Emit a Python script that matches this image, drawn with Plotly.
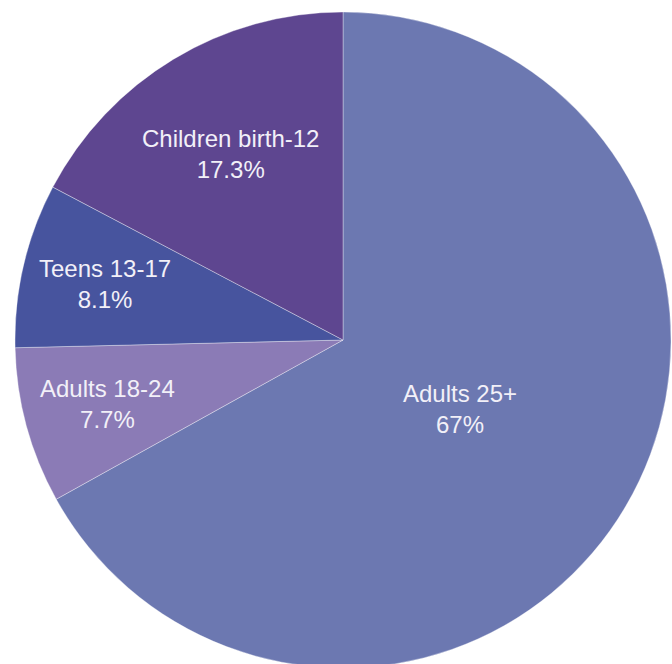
import math
import plotly.graph_objects as go

labels = ["Adults 25+", "Adults 18-24", "Teens 13-17", "Children birth-12"]
values = [67, 7.7, 8.1, 17.3]
colors = ["#6C78B1", "#8B7BB6", "#47549E", "#5E4690"]
label_radius = [0.415, 0.745, 0.745, 0.664]  # fraction of pie radius for label placement

texts = [f"{l}<br>{v:g}%" for l, v in zip(labels, values)]

W, H = 680, 680
cx, cy, r = 343, 340, 328
dom_x = [(cx - r) / W, (cx + r) / W]
dom_y = [1 - (cy + r) / H, 1 - (cy - r) / H]

fig = go.Figure(go.Pie(
    labels=labels,
    values=values,
    textinfo="none",
    sort=False,
    direction="clockwise",
    rotation=0,
    marker=dict(colors=colors, line=dict(color="rgba(255,255,255,0.35)", width=1)),
    hoverinfo="skip",
    domain=dict(x=dom_x, y=dom_y),
))

# label positions derived from slice mid-angles
total = sum(values)
pcx = (dom_x[0] + dom_x[1]) / 2
pcy = (dom_y[0] + dom_y[1]) / 2
rx = (dom_x[1] - dom_x[0]) / 2
ry = (dom_y[1] - dom_y[0]) / 2
cum = 0
annotations = []
for t, v, f in zip(texts, values, label_radius):
    mid = (cum + v / 2) / total * 2 * math.pi
    cum += v
    annotations.append(dict(
        x=pcx + f * rx * math.sin(mid),
        y=pcy + f * ry * math.cos(mid),
        xref="paper", yref="paper",
        xanchor="center", yanchor="middle",
        text=t, showarrow=False,
        font=dict(family="Liberation Sans, Arial, sans-serif", size=24, color="#F2F0F8"),
    ))

fig.update_layout(
    width=W, height=H,
    margin=dict(l=0, r=0, t=0, b=0),
    paper_bgcolor="white",
    showlegend=False,
    annotations=annotations,
)

fig.write_html(
    "out.html",
    post_script="document.documentElement.style.overflow='hidden';document.body.style.overflow='hidden';document.body.style.margin='0';",
)
